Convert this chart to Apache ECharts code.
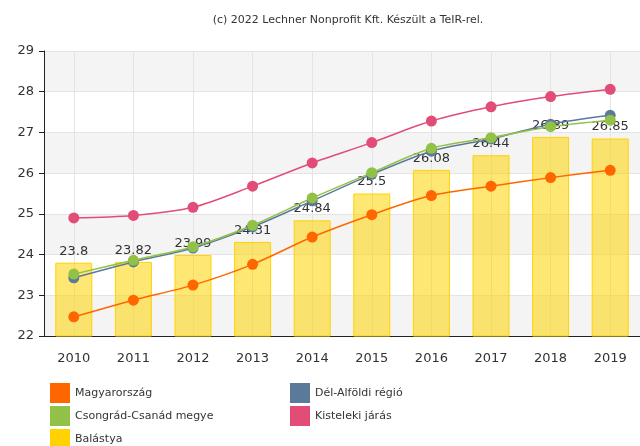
<!DOCTYPE html>
<html><head><meta charset="utf-8">
<script src="https://cdn.jsdelivr.net/npm/echarts@6/dist/echarts.min.js"></script>
<style>html,body{margin:0;padding:0;background:#fff}#c{width:640px;height:446px}</style>
</head><body><div id="c"></div>
<script>
const years = ['2010','2011','2012','2013','2014','2015','2016','2017','2018','2019'];
const magyarorszag = [22.47,22.88,23.25,23.76,24.43,24.98,25.45,25.68,25.89,26.07];
const delAlfoldi = [23.43,23.82,24.16,24.68,25.32,25.97,26.54,26.84,27.20,27.42];
const csongrad = [23.52,23.86,24.19,24.72,25.39,26.01,26.61,26.87,27.14,27.30];
const kisteleki = [24.90,24.96,25.16,25.68,26.25,26.75,27.28,27.63,27.88,28.06];
const balastya = [23.8,23.82,23.99,24.31,24.84,25.5,26.08,26.44,26.89,26.85];
const yTicks = {min:22, max:29, step:1};
const title = '(c) 2022 Lechner Nonprofit Kft. Készült a TeIR-rel.';

const FONT = 'DejaVu Sans';
const chart = echarts.init(document.getElementById('c'), null, {renderer:'canvas'});
function lineSeries(name, data, color){
  return {name, type:'line', data, smooth:0.3, symbol:'circle', symbolSize:11,
    lineStyle:{color, width:1.5}, itemStyle:{color}, z:3};
}
function legendAt(item, left, top){
  return {left, top, itemWidth:20, itemHeight:20, icon:'rect', padding:0,
    textStyle:{fontFamily:FONT, fontSize:11, color:'#333'}, data:[item]};
}
chart.setOption({
  animation:false,
  title:{text:title, left:343, textAlign:'center', top:10,
    textStyle:{fontFamily:FONT, fontSize:11, fontWeight:'normal', color:'#333'}},
  grid:{left:44, top:51, width:608, height:285},
  legend:[
    legendAt({name:'Magyarország'}, 50, 383),
    legendAt({name:'Csongrád-Csanád megye'}, 50, 406),
    legendAt({name:'Balástya', itemStyle:{color:'#FFD200', opacity:1, borderWidth:0}}, 50, 429),
    legendAt({name:'Dél-Alföldi régió'}, 290, 383),
    legendAt({name:'Kisteleki járás'}, 290, 406)
  ],
  xAxis:{type:'category', data:years, boundaryGap:true,
    axisLine:{lineStyle:{color:'#222', width:1}},
    axisTick:{alignWithLabel:true, length:5, lineStyle:{color:'#222'}},
    axisLabel:{fontFamily:FONT, fontSize:13, color:'#333', margin:16},
    splitLine:{show:true, alignWithLabel:true, lineStyle:{color:'#e4e4e4'}}},
  yAxis:{type:'value', min:yTicks.min, max:yTicks.max, interval:yTicks.step,
    axisLine:{show:true, lineStyle:{color:'#222', width:1}},
    axisTick:{show:true, length:5, lineStyle:{color:'#222'}},
    axisLabel:{fontFamily:FONT, fontSize:13, color:'#333', margin:10},
    splitLine:{show:true, lineStyle:{color:'#e4e4e4'}},
    splitArea:{show:true, areaStyle:{color:['#f4f4f4','#ffffff']}}},
  series:[
    {name:'Balástya', type:'bar', data:balastya, barWidth:37, z:2,
      itemStyle:{color:'rgba(255,212,0,0.55)', borderColor:'#FFD200', borderWidth:1},
      label:{show:true, position:'top', distance:5, fontFamily:FONT, fontSize:13, color:'#333'}},
    lineSeries('Kisteleki járás', kisteleki, '#E24D77'),
    lineSeries('Dél-Alföldi régió', delAlfoldi, '#5B7A9B'),
    lineSeries('Csongrád-Csanád megye', csongrad, '#92C147'),
    lineSeries('Magyarország', magyarorszag, '#FF6600')
  ]
});
</script></body></html>
